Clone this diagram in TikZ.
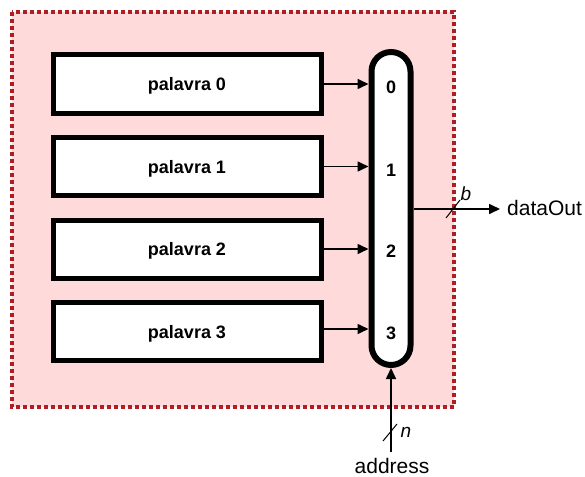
\documentclass[tikz,border=0pt]{standalone}
\usepackage{fontspec}
\setmainfont{Liberation Sans}
\usetikzlibrary{arrows.meta}
\definecolor{memfill}{HTML}{FFDADA}
\definecolor{memedge}{HTML}{B01E23}
\tikzset{
  wordbox/.style={draw=black, line width=5pt, fill=white, minimum width=268pt,
    minimum height=58pt, inner sep=0pt, text depth=0pt, font=\bfseries\fontsize{18}{20}\selectfont},
  sel/.style={font=\bfseries\fontsize{18}{20}\selectfont, inner sep=0pt},
  wire/.style={line width=1.6pt, -{Triangle[length=11pt,width=10pt]}},
  bus/.style={line width=1pt},
  lbl/.style={font=\fontsize{21}{24}\selectfont, inner sep=0pt},
  buslbl/.style={font=\itshape\fontsize{19}{21}\selectfont, inner sep=0pt}
}
\begin{document}
\begin{tikzpicture}[x=1pt, y=-1pt]
\useasboundingbox (0,0) rectangle (585,476);
% memory block
\draw[fill=memfill, draw=memedge, line width=4pt, dash pattern=on 4pt off 3pt]
  (12,12) rectangle (454,407);
% words
\node[wordbox] (w0) at (187,84)    {palavra 0};
\node[wordbox] (w1) at (187,166.5) {palavra 1};
\node[wordbox] (w2) at (187,249)   {palavra 2};
\node[wordbox] (w3) at (187,331.5) {palavra 3};
% multiplexer
\draw[line width=6pt, fill=white, rounded corners=19.5pt]
  (371.5,52) rectangle (410.5,365);
\coordinate (mtop) at (391,52);
\coordinate (mbot) at (391,368);
\coordinate (mright) at (413.5,209);
\node[sel] (s0) at (391,87)  {0};
\node[sel] (s1) at (391,170) {1};
\node[sel] (s2) at (391,251) {2};
\node[sel] (s3) at (391,333) {3};
\coordinate (i0) at (368.5,84);
\coordinate (i1) at (368.5,166.5);
\coordinate (i2) at (368.5,249);
\coordinate (i3) at (368.5,329);
\draw[wire] (w0.east) -- (i0);
\draw[wire] (w1.east) -- (i1);
\draw[wire] (w2.east) -- (i2);
\draw[wire] (w3.east |- i3) -- (i3);
% output
\coordinate (oend) at (500,209);
\node[lbl, anchor=base west] (dout) at (507,215) {dataOut};
\draw[wire] (mright) -- (oend);
\draw[bus] (446,218) -- (460,200);
\node[buslbl] (b) at (466,194) {b};
% address
\coordinate (abeg) at (391,452);
\node[lbl, anchor=base] (addr) at (392,473) {address};
\draw[wire] (abeg) -- (mbot);
\draw[bus] (383,441) -- (397,424);
\node[buslbl] (n) at (406,432) {n};
\end{tikzpicture}
\end{document}
